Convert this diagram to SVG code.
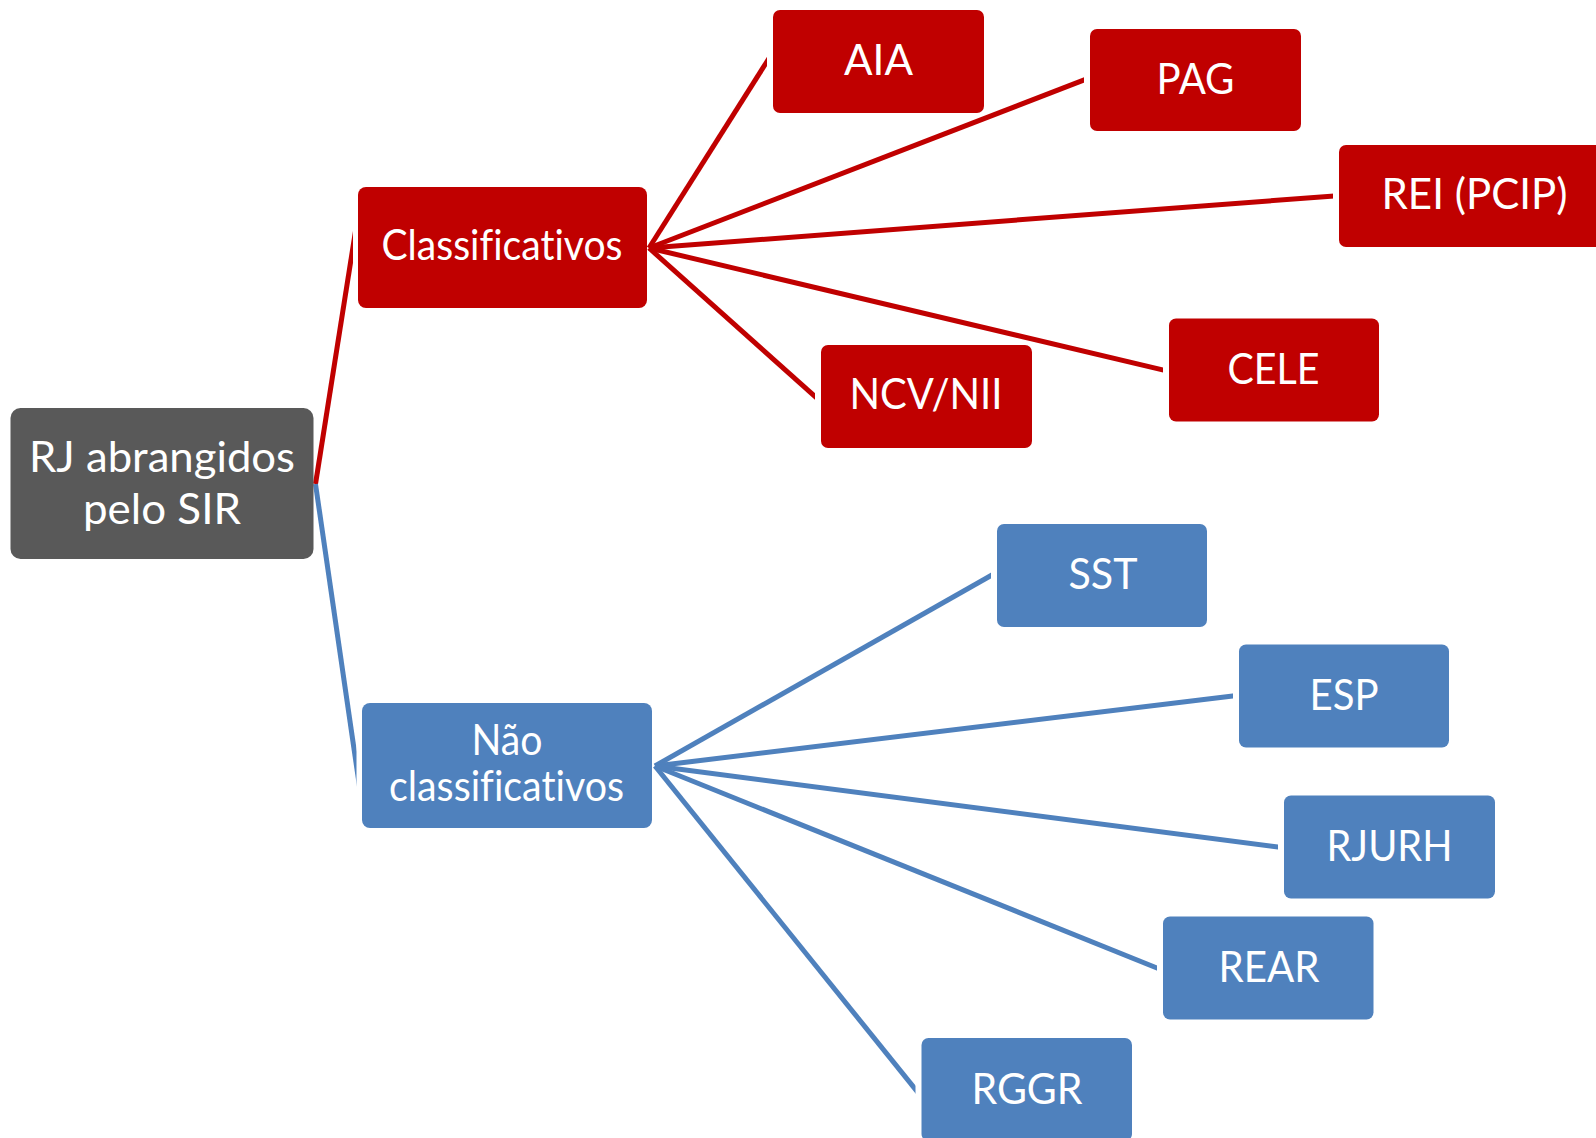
<svg xmlns="http://www.w3.org/2000/svg" width="1596" height="1138" viewBox="0 0 1596 1138">
  <style>
    .box { stroke: none; }
    .red { fill: #C00000; }
    .blue { fill: #4F81BD; }
    .grey { fill: #595959; }
    .lbl { fill: #FFFFFF; font-family: Lato, "Open Sans", "Liberation Sans", sans-serif; font-size: 42px; text-anchor: middle; font-variant-ligatures: none; font-feature-settings: "liga" 0, "clig" 0; }
    .lr { stroke: #C00000; stroke-width: 5; fill: none; stroke-linecap: butt; }
    .lb { stroke: #4F81BD; stroke-width: 5; fill: none; stroke-linecap: butt; }
  </style>
  <defs>
    <!-- leaves a small gap between each connector end and the box it leads to -->
    <mask id="gaps" maskUnits="userSpaceOnUse" x="0" y="0" width="1596" height="1138">
      <rect x="0" y="0" width="1596" height="1138" fill="#fff"/>
      <rect x="353" y="187" width="294" height="121" fill="#000"/>
      <rect x="356.5" y="703" width="295.5" height="125" fill="#000"/>
      <rect x="767" y="10" width="217" height="103" fill="#000"/>
      <rect x="1084" y="29" width="217" height="102" fill="#000"/>
      <rect x="1333" y="145" width="277" height="102" fill="#000"/>
      <rect x="1163" y="318.5" width="216" height="103" fill="#000"/>
      <rect x="815" y="345" width="217" height="103" fill="#000"/>
      <rect x="991" y="524" width="216" height="103" fill="#000"/>
      <rect x="1233" y="644.5" width="216" height="103" fill="#000"/>
      <rect x="1278" y="795.5" width="217" height="103" fill="#000"/>
      <rect x="1157" y="916.5" width="216.5" height="103" fill="#000"/>
      <rect x="915.5" y="1038" width="216.5" height="103" fill="#000"/>
    </mask>
  </defs>

  <rect x="0" y="0" width="1596" height="1138" fill="#FFFFFF"/>

  <g id="connectors" mask="url(#gaps)">
    <line class="lr" x1="315.5" y1="484" x2="361" y2="196.4"/>
    <line class="lb" x1="315.5" y1="484" x2="364.5" y2="821"/>
    <line class="lr" x1="649" y1="248" x2="775" y2="48.9"/>
    <line class="lr" x1="649" y1="248" x2="1092" y2="76.9"/>
    <line class="lr" x1="649" y1="248" x2="1341" y2="195.4"/>
    <line class="lr" x1="649" y1="248" x2="1171" y2="371.9"/>
    <line class="lr" x1="649" y1="248" x2="823" y2="403.7"/>
    <line class="lb" x1="655" y1="766" x2="999" y2="571"/>
    <line class="lb" x1="655" y1="766" x2="1241" y2="695"/>
    <line class="lb" x1="655" y1="766" x2="1286" y2="848"/>
    <line class="lb" x1="655" y1="766" x2="1165" y2="971.2"/>
    <line class="lb" x1="655" y1="766" x2="923.5" y2="1099.4"/>
  </g>

  <g id="root">
    <rect class="box grey" x="10.5" y="408" width="303" height="151" rx="10"/>
    <text class="lbl" x="162" y="472" textLength="266" lengthAdjust="spacingAndGlyphs">RJ abrangidos</text>
    <text class="lbl" x="162" y="524" textLength="158" lengthAdjust="spacingAndGlyphs">pelo SIR</text>
  </g>

  <g id="classificativos">
    <rect class="box red" x="358" y="187" width="289" height="121" rx="8"/>
    <text class="lbl" x="502" y="260" textLength="241" lengthAdjust="spacingAndGlyphs">Classificativos</text>
  </g>

  <g id="nao-classificativos">
    <rect class="box blue" x="362" y="703" width="290" height="125" rx="8"/>
    <text class="lbl" x="507" y="754.5" textLength="71" lengthAdjust="spacingAndGlyphs">Não</text>
    <text class="lbl" x="506.5" y="801" textLength="235" lengthAdjust="spacingAndGlyphs">classificativos</text>
  </g>

  <g id="aia">
    <rect class="box red" x="773" y="10" width="211" height="103" rx="7"/>
    <text class="lbl" x="878.5" y="75" textLength="69" lengthAdjust="spacingAndGlyphs">AIA</text>
  </g>

  <g id="pag">
    <rect class="box red" x="1090" y="29" width="211" height="102" rx="7"/>
    <text class="lbl" x="1195.5" y="94" textLength="78" lengthAdjust="spacingAndGlyphs">PAG</text>
  </g>

  <g id="rei">
    <rect class="box red" x="1339" y="145" width="271" height="102" rx="7"/>
    <text class="lbl" x="1474.5" y="209" textLength="186" lengthAdjust="spacingAndGlyphs">REI (PCIP)</text>
  </g>

  <g id="cele">
    <rect class="box red" x="1169" y="318.5" width="210" height="103" rx="7"/>
    <text class="lbl" x="1273.5" y="384" textLength="92" lengthAdjust="spacingAndGlyphs">CELE</text>
  </g>

  <g id="ncv-nii">
    <rect class="box red" x="821" y="345" width="211" height="103" rx="7"/>
    <text class="lbl" x="926" y="409" textLength="153" lengthAdjust="spacingAndGlyphs">NCV/NII</text>
  </g>

  <g id="sst">
    <rect class="box blue" x="997" y="524" width="210" height="103" rx="7"/>
    <text class="lbl" x="1103" y="589" textLength="69" lengthAdjust="spacingAndGlyphs">SST</text>
  </g>

  <g id="esp">
    <rect class="box blue" x="1239" y="644.5" width="210" height="103" rx="7"/>
    <text class="lbl" x="1344" y="709.5" textLength="69" lengthAdjust="spacingAndGlyphs">ESP</text>
  </g>

  <g id="rjurh">
    <rect class="box blue" x="1284" y="795.5" width="211" height="103" rx="7"/>
    <text class="lbl" x="1389.5" y="861" textLength="126" lengthAdjust="spacingAndGlyphs">RJURH</text>
  </g>

  <g id="rear">
    <rect class="box blue" x="1163" y="916.5" width="210.5" height="103" rx="7"/>
    <text class="lbl" x="1269" y="982" textLength="101" lengthAdjust="spacingAndGlyphs">REAR</text>
  </g>

  <g id="rggr">
    <rect class="box blue" x="921.5" y="1038" width="210.5" height="103" rx="7"/>
    <text class="lbl" x="1027" y="1103.5" textLength="111" lengthAdjust="spacingAndGlyphs">RGGR</text>
  </g>
</svg>
